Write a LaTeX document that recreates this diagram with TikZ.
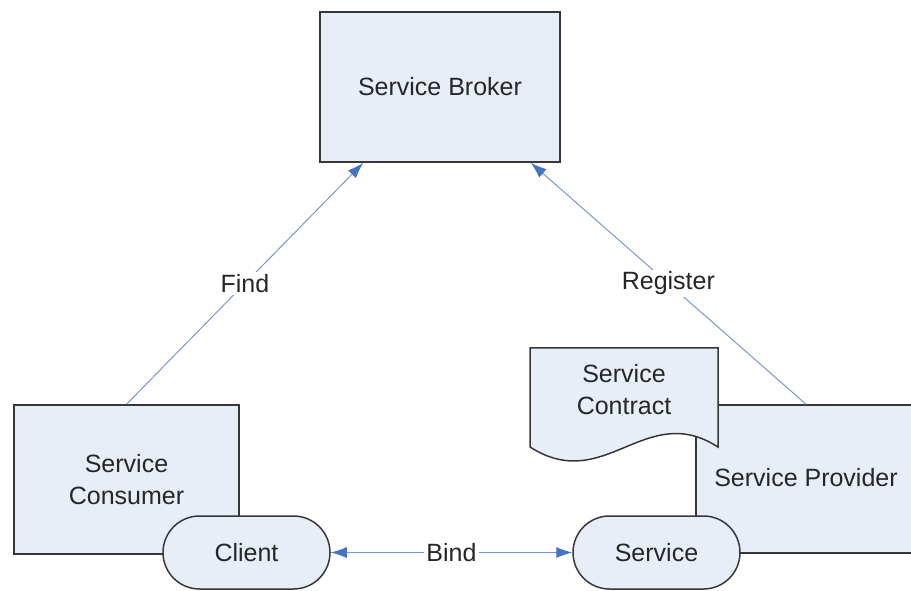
\documentclass[tikz,border=0pt]{standalone}
\usepackage{fontspec}
\setmainfont{Liberation Sans}
\usetikzlibrary{shapes,shapes.misc}
\usetikzlibrary{arrows.meta}
\usetikzlibrary{calc,positioning}

\definecolor{boxfill}{RGB}{232,238,248}
\definecolor{boxline}{RGB}{55,55,55}
\definecolor{linkblue}{RGB}{120,150,205}
\definecolor{tipblue}{RGB}{68,114,196}
\definecolor{txt}{RGB}{38,38,38}

\begin{document}
\begin{tikzpicture}[x=1pt,y=1pt,
  >={Latex[length=16pt,width=11pt,color=tipblue]},
  font=\fontsize{25}{32}\selectfont, text=txt,
  block/.style={draw=boxline,line width=1.5pt,fill=boxfill,
    align=center,inner sep=0pt},
  port/.style={draw=boxline,line width=1.5pt,fill=boxfill,
    rounded rectangle,minimum width=167pt,minimum height=73pt,inner sep=0pt},
  link/.style={draw=linkblue,line width=1pt},
  tag/.style={fill=white,inner sep=2pt}]
\useasboundingbox (0,0) rectangle (911,590);

\node[block,minimum width=240pt,minimum height=150pt] (broker) at (440,503) {Service Broker};
\node[block,minimum width=225pt,minimum height=149pt] (consumer) at (126.5,110.5) {Service\\Consumer};
\node[block,minimum width=220pt,minimum height=148pt] (provider) at (806,111) {};
\node at (806,112) {Service Provider};

% contract sheet over the provider
\draw[draw=boxline,line width=1.5pt,fill=boxfill]
  (530,242) -- (718,242) -- (718,143)
  .. controls (645,190) and (605,95) .. (530,143) -- cycle;
\node[align=center] (contract) at (624,200) {Service\\Contract};

\node[port] (client) at (246.5,37.5) {Client};
\node[port] (service) at (656.5,37.5) {Service};

\draw[link,->] (consumer.north) -- ($(broker.south west)+(44,0)$)
  node[tag,midway] {Find};
\draw[link,->] (provider.north) -- ($(broker.south east)+(-30,0)$)
  node[tag,midway] {Register};
\draw[link,<->] (client.east) -- (service.west)
  node[tag,midway] {Bind};
\end{tikzpicture}
\end{document}
